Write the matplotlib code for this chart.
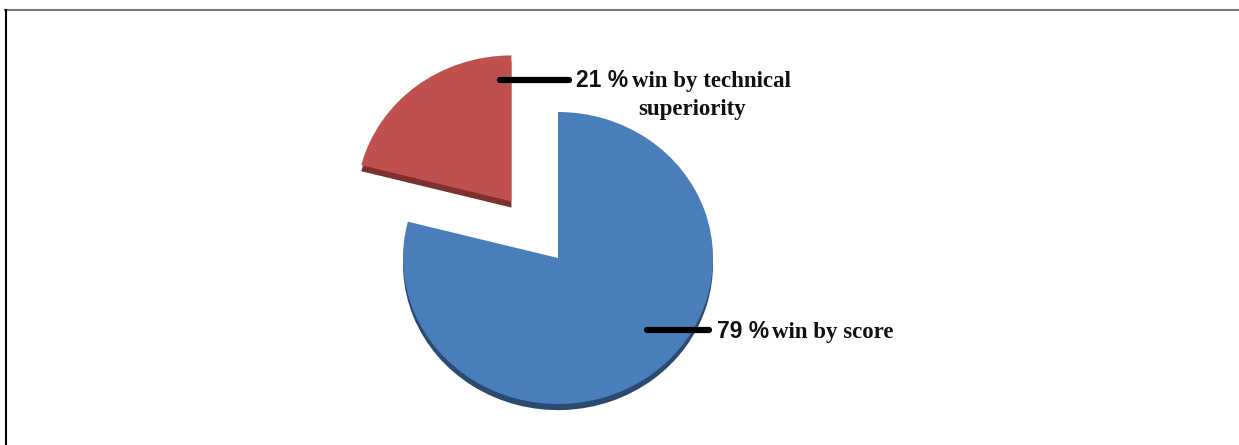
import matplotlib.pyplot as plt
from matplotlib.lines import Line2D

# data
labels = ["win by score", "win by technical\nsuperiority"]
values = [79, 21]
colors = ["#4a7ebb", "#c0504d"]
side_colors = ["#2a4a70", "#7e302e"]

W, H = 1239, 445
ky = 155 / 146  # vertical squash of the tilted pie

fig = plt.figure(figsize=(W / 100, H / 100), dpi=100)
ax = fig.add_axes([0, 0, 1, 1])


def py(y_px):
    return (H - y_px) * ky


center = (558, py(258))
radius = 155
explode = [0, 76]  # pie() takes the offset in data units

# dark side of the slices (3D thickness)
ax.pie(values, colors=side_colors, startangle=90, counterclock=False,
       explode=explode, radius=radius, center=(center[0], center[1] - 6.5),
       frame=True, wedgeprops=dict(linewidth=0))
ax.pie(values, colors=colors, startangle=90, counterclock=False,
       explode=explode, radius=radius, center=center,
       frame=True, wedgeprops=dict(linewidth=0))
ax.set_aspect("auto")
ax.set_xlim(0, W)
ax.set_ylim(0, H * ky)
ax.axis("off")

# leader lines
for x0, x1, y in [(500, 569, 80), (647, 709, 330)]:
    ax.add_line(Line2D([x0, x1], [py(y), py(y)], color="black", lw=4.5,
                       solid_capstyle="round"))

pct = [f"{v} %" for v in values]
sans = dict(family="Liberation Sans", weight="bold", fontsize=16.5, color="#111111")
serif = dict(family="Liberation Serif", weight="bold", fontsize=16.5, color="#111111")

# red slice label
fig.text(576 / W, 1 - 87 / H, pct[1], ha="left", va="baseline", **sans)
first, second = labels[1].split("\n")
fig.text(632 / W, 1 - 87 / H, first, ha="left", va="baseline", **serif)
fig.text(692 / W, 1 - 115 / H, second, ha="center", va="baseline", **serif)

# blue slice label
fig.text(717 / W, 1 - 338 / H, pct[0], ha="left", va="baseline", **sans)
fig.text(772 / W, 1 - 338 / H, labels[0], ha="left", va="baseline", **serif)

# frame of the original image
fig.add_artist(Line2D([5 / W, 1], [1 - 9.5 / H, 1 - 9.5 / H], color="#777777", lw=1.5))
fig.add_artist(Line2D([5.5 / W, 5.5 / W], [0, 1 - 9.5 / H], color="black", lw=1.5))

fig.savefig("out.png", dpi=100)
